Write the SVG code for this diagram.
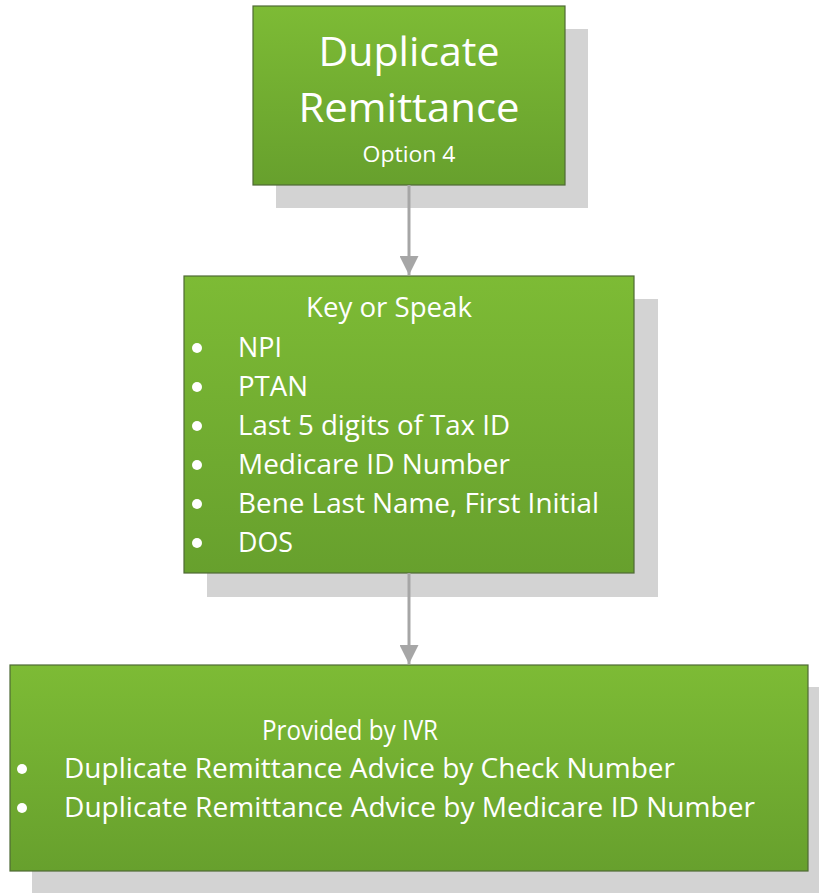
<svg xmlns="http://www.w3.org/2000/svg" width="819" height="893" viewBox="0 0 819 893">
<defs>
<linearGradient id="g" x1="0" y1="0" x2="0" y2="1">
<stop offset="0" stop-color="#7dbb35"/>
<stop offset="1" stop-color="#67a02d"/>
</linearGradient>
<marker id="ah" viewBox="0 0 10 10" refX="10" refY="5" markerWidth="19" markerHeight="19" markerUnits="userSpaceOnUse" orient="auto">
<path d="M0,0 L10,5 L0,10 z" fill="#a6a6a6"/>
</marker>
<style>
.shadow{fill:#d3d3d3}
.box{fill:url(#g);stroke:#4f6a35;stroke-width:1.2}
text{font-family:"Open Sans","Noto Sans","Liberation Sans",sans-serif;fill:#ffffff}
.t{font-size:40px;text-anchor:middle}
.s{font-size:22px;text-anchor:middle}
.h{font-size:27px;text-anchor:middle}
.b{font-size:27px}
.dot{fill:#ffffff}
.conn{stroke:#a6a6a6;stroke-width:3;fill:none}
</style>
</defs>
<rect width="819" height="893" fill="#ffffff"/>
<g id="node-option4">
<rect class="shadow" x="276" y="29" width="312" height="179"/>
<rect class="box" x="253" y="6" width="312" height="179"/>
<text class="t" x="409" y="66" textLength="181" lengthAdjust="spacingAndGlyphs">Duplicate</text>
<text class="t" x="409" y="122" textLength="221" lengthAdjust="spacingAndGlyphs">Remittance</text>
<text class="s" x="409" y="162" textLength="93" lengthAdjust="spacingAndGlyphs">Option 4</text>
</g>
<g id="node-keyorspeak">
<rect class="shadow" x="207" y="299" width="451" height="298"/>
<rect class="box" x="184" y="276" width="450" height="297"/>
<text class="h" x="389" y="317" textLength="166" lengthAdjust="spacingAndGlyphs">Key or Speak</text>
<circle class="dot" cx="197" cy="348" r="5"/>
<circle class="dot" cx="197" cy="387" r="5"/>
<circle class="dot" cx="197" cy="426" r="5"/>
<circle class="dot" cx="197" cy="465" r="5"/>
<circle class="dot" cx="197" cy="504" r="5"/>
<circle class="dot" cx="197" cy="543" r="5"/>
<text class="b" x="238" y="357" textLength="44" lengthAdjust="spacingAndGlyphs">NPI</text>
<text class="b" x="238" y="396" textLength="70" lengthAdjust="spacingAndGlyphs">PTAN</text>
<text class="b" x="238" y="435" textLength="272" lengthAdjust="spacingAndGlyphs">Last 5 digits of Tax ID</text>
<text class="b" x="238" y="474" textLength="272" lengthAdjust="spacingAndGlyphs">Medicare ID Number</text>
<text class="b" x="238" y="513" textLength="361" lengthAdjust="spacingAndGlyphs">Bene Last Name, First Initial</text>
<text class="b" x="238" y="552" textLength="55" lengthAdjust="spacingAndGlyphs">DOS</text>
</g>
<g id="node-providedbyivr">
<rect class="shadow" x="32" y="687" width="800" height="210"/>
<rect class="box" x="10" y="665" width="798" height="206"/>
<text class="h" x="350" y="740" textLength="176" lengthAdjust="spacingAndGlyphs">Provided by IVR</text>
<circle class="dot" cx="22" cy="769" r="5"/>
<circle class="dot" cx="22" cy="808" r="5"/>
<text class="b" x="64" y="778" textLength="611" lengthAdjust="spacingAndGlyphs">Duplicate Remittance Advice by Check Number</text>
<text class="b" x="64" y="817" textLength="691" lengthAdjust="spacingAndGlyphs">Duplicate Remittance Advice by Medicare ID Number</text>
</g>
<g id="connectors">
<line class="conn" x1="409" y1="185" x2="409" y2="275" marker-end="url(#ah)"/>
<line class="conn" x1="409" y1="573" x2="409" y2="664" marker-end="url(#ah)"/>
</g>
</svg>
